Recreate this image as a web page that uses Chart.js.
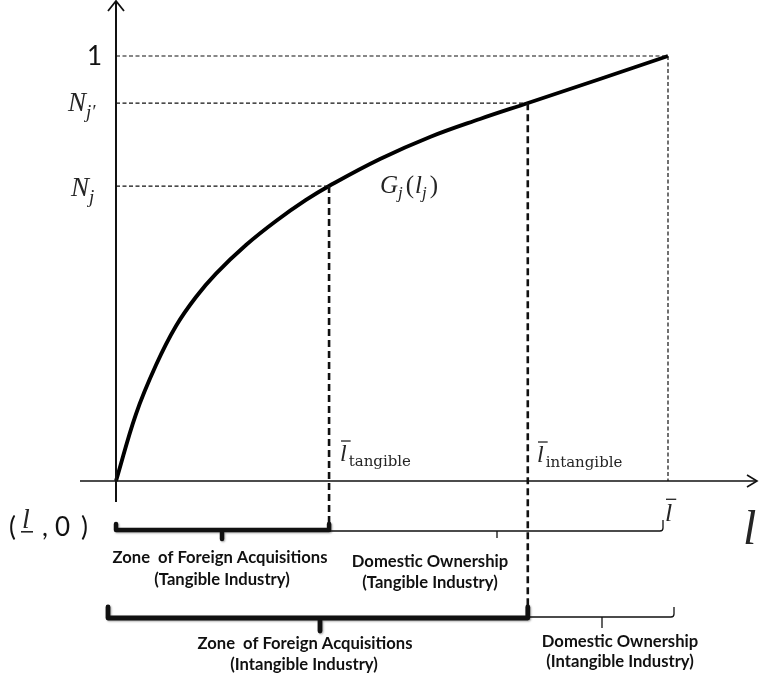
<!DOCTYPE html>
<html>
<head>
<meta charset="utf-8">
<script src="https://cdn.jsdelivr.net/npm/chart.js@4.4.1/dist/chart.umd.min.js"></script>
<style>
html,body{margin:0;padding:0;background:#fff;}
#wrap{width:759px;height:680px;}
</style>
</head>
<body>
<div id="wrap"><canvas id="c" width="759" height="680"></canvas></div>
<script>
// ---- data ----
const curveX = [0, 0.0362, 0.0725, 0.1087, 0.1449, 0.1812, 0.2355, 0.2899, 0.3442, 0.3859, 0.4783, 0.5688, 0.6594, 0.7464, 0.8768, 1.0];
const curveY = [0, 0.1576, 0.2729, 0.3647, 0.4329, 0.4880, 0.5553, 0.6118, 0.6612, 0.6941, 0.7576, 0.8094, 0.8518, 0.8894, 0.9459, 1.0];
const levelOne = 1.0;
const levelNj = 0.694;
const levelNjp = 0.889;
const lTangible = 0.386;
const lIntangible = 0.746;
const lBar = 1.0;
const zoneLabelsTop = ["Zone  of Foreign Acquisitions", "(Tangible Industry)"];
const domLabelsTop = ["Domestic Ownership", "(Tangible Industry)"];
const zoneLabelsBottom = ["Zone  of Foreign Acquisitions", "(Intangible Industry)"];
const domLabelsBottom = ["Domestic Ownership", "(Intangible Industry)"];

const curveData = curveX.map((x, i) => ({x: x, y: curveY[i]}));

const MATH = '"Liberation Serif", "DejaVu Serif", serif';
const ROMAN = '"DejaVu Serif", "Liberation Serif", serif';
const SANS = 'Lato, "Open Sans", "Liberation Sans", sans-serif';
const INK = '#111';
const MINK = '#252525';

function line(ctx, pts, lw, dash) {
  ctx.save();
  ctx.strokeStyle = INK;
  ctx.lineWidth = lw;
  ctx.setLineDash(dash || []);
  ctx.beginPath();
  ctx.moveTo(pts[0][0], pts[0][1]);
  for (let i = 1; i < pts.length; i++) ctx.lineTo(pts[i][0], pts[i][1]);
  ctx.stroke();
  ctx.restore();
}

function bracketThick(ctx, x1, x2, yLine, yTop, midX, midBot, lw) {
  ctx.save();
  ctx.strokeStyle = INK;
  ctx.lineWidth = lw;
  ctx.lineJoin = 'round';
  ctx.lineCap = 'round';
  ctx.shadowColor = 'rgba(0,0,0,0.35)';
  ctx.shadowBlur = 2;
  ctx.shadowOffsetX = 1;
  ctx.shadowOffsetY = 1;
  ctx.beginPath();
  ctx.moveTo(x1, yTop);
  ctx.lineTo(x1, yLine);
  ctx.lineTo(x2, yLine);
  ctx.lineTo(x2, yTop);
  ctx.moveTo(midX, yLine);
  ctx.lineTo(midX, midBot);
  ctx.stroke();
  ctx.restore();
}

function bracketThin(ctx, x1, x2, yLine, yTop, midX, midBot, lw) {
  ctx.save();
  ctx.strokeStyle = INK;
  ctx.lineWidth = lw;
  ctx.beginPath();
  ctx.moveTo(x1, yLine);
  ctx.lineTo(x2 - 3, yLine);
  ctx.quadraticCurveTo(x2, yLine, x2, yLine - 3);
  ctx.lineTo(x2, yTop);
  ctx.moveTo(midX, yLine);
  ctx.lineTo(midX, midBot);
  ctx.stroke();
  ctx.restore();
}

function mathSub(ctx, x, yBase, main, sub, size, subSize, subDrop) {
  ctx.save();
  ctx.fillStyle = MINK;
  ctx.textBaseline = 'alphabetic';
  ctx.textAlign = 'left';
  ctx.font = 'italic ' + size + 'px ' + MATH;
  ctx.fillText(main, x, yBase);
  const w = ctx.measureText(main).width;
  ctx.font = 'italic ' + subSize + 'px ' + MATH;
  ctx.fillText(sub, x + w, yBase + subDrop);
  ctx.restore();
}

const overlay = {
  id: 'overlay',
  afterDatasetsDraw(chart) {
    const ctx = chart.ctx;
    const sx = chart.scales.x, sy = chart.scales.y;
    const X = v => sx.getPixelForValue(v);
    const Y = v => sy.getPixelForValue(v);
    const x0 = X(0), y0 = Y(0);

    // axes
    line(ctx, [[x0, 1], [x0, y0 + 21]], 2);
    line(ctx, [[x0 - 8, 11], [x0, 1], [x0 + 8, 11]], 1.8);
    line(ctx, [[x0 - 36, y0], [757, y0]], 1.6);
    line(ctx, [[747, y0 - 6], [757, y0], [747, y0 + 6]], 1.6);

    // thin dashed guides
    line(ctx, [[x0, Y(levelOne)], [X(lBar), Y(levelOne)]], 1.2, [4, 2.5]);
    line(ctx, [[x0, Y(levelNjp)], [X(lIntangible), Y(levelNjp)]], 1.2, [4, 2.5]);
    line(ctx, [[x0, Y(levelNj)], [X(lTangible), Y(levelNj)]], 1.2, [4, 2.5]);
    line(ctx, [[X(lBar), Y(levelOne)], [X(lBar), y0]], 1.2, [4, 2.5]);

    // thick dashed verticals
    line(ctx, [[X(lTangible), Y(levelNj)], [X(lTangible), y0 + 43]], 2.6, [7, 4]);
    line(ctx, [[X(lIntangible), Y(levelNjp)], [X(lIntangible), y0 + 125]], 2.6, [7, 4]);

    // brackets
    bracketThin(ctx, X(lTangible), X(lBar) - 5, y0 + 50, y0 + 39, 497, y0 + 57, 1.3);
    bracketThick(ctx, x0, X(lTangible), y0 + 49, y0 + 43, 222, y0 + 58, 4.5);
    bracketThin(ctx, X(lIntangible), X(lBar) + 6, y0 + 136, y0 + 126, 602, y0 + 147, 1.3);
    bracketThick(ctx, x0 - 8, X(lIntangible), y0 + 137, y0 + 126, 320, y0 + 150, 4.8);

    // sans text
    ctx.save();
    ctx.fillStyle = INK;
    ctx.textBaseline = 'alphabetic';
    ctx.textAlign = 'left';
    ctx.font = '26px ' + SANS;
    ctx.fillText('1', 87, Y(levelOne) + 9);
    // ( l , 0 )
    const cb = 536;
    ctx.fillText('(', 9, cb);
    ctx.fillText(',', 42, cb);
    ctx.fillText('0', 55, cb);
    ctx.fillText(')', 81, cb);
    ctx.font = 'italic 28px ' + MATH;
    ctx.fillStyle = MINK;
    ctx.fillText('l', 22, 528);
    ctx.fillRect(21, 531, 12, 1.6);
    ctx.restore();

    // bold labels fitted to width
    ctx.save();
    ctx.fillStyle = INK;
    ctx.textAlign = 'center';
    ctx.textBaseline = 'middle';
    ctx.font = 'bold 20px ' + SANS;
    const wRef = ctx.measureText(zoneLabelsTop[0]).width;
    const fs = 20 * 215 / wRef;
    ctx.font = 'bold ' + fs.toFixed(2) + 'px ' + SANS;
    ctx.fillText(zoneLabelsTop[0], 220, 558);
    ctx.fillText(zoneLabelsTop[1], 222, 580);
    ctx.fillText(domLabelsTop[0], 430, 562);
    ctx.fillText(domLabelsTop[1], 430, 583);
    ctx.fillText(zoneLabelsBottom[0], 305, 644);
    ctx.fillText(zoneLabelsBottom[1], 304, 665);
    ctx.fillText(domLabelsBottom[0], 620, 642);
    ctx.fillText(domLabelsBottom[1], 620, 662);
    ctx.restore();

    // math labels
    mathSub(ctx, 68, Y(levelNjp) + 8, 'N', 'j\u2032', 27, 19, 7);
    mathSub(ctx, 71, Y(levelNj) + 10, 'N', 'j', 27, 19, 7);

    // G_j(l_j)
    ctx.save();
    ctx.fillStyle = MINK;
    ctx.textBaseline = 'alphabetic';
    let gx = 380;
    const gy = 193;
    ctx.font = 'italic 25px ' + MATH;
    ctx.fillText('G', gx, gy); gx += ctx.measureText('G').width;
    ctx.font = 'italic 17px ' + MATH;
    ctx.fillText('j', gx, gy + 5); gx += ctx.measureText('j').width + 3;
    ctx.font = '25px ' + MATH;
    ctx.fillText('(', gx, gy); gx += ctx.measureText('(').width + 1;
    ctx.font = 'italic 25px ' + MATH;
    ctx.fillText('l', gx, gy); gx += ctx.measureText('l').width;
    ctx.font = 'italic 17px ' + MATH;
    ctx.fillText('j', gx, gy + 5); gx += ctx.measureText('j').width + 3;
    ctx.font = '25px ' + MATH;
    ctx.fillText(')', gx, gy);
    ctx.restore();

    // l-bar labels
    function lbar(x, yBase, size, sub, subSize) {
      ctx.save();
      ctx.fillStyle = MINK;
      ctx.textBaseline = 'alphabetic';
      ctx.font = 'italic ' + size + 'px ' + MATH;
      ctx.fillText('l', x, yBase);
      const w = ctx.measureText('l').width;
      ctx.fillRect(x + 1, yBase - size * 0.86, w + 3, 1.3);
      if (sub) {
        ctx.font = subSize + 'px ' + ROMAN;
        ctx.fillText(sub, x + w + 2, yBase + 5);
      }
      ctx.restore();
    }
    lbar(340, 461, 24, 'tangible', 15);
    lbar(537, 462, 24, 'intangible', 15);
    lbar(665, 521, 26, null, 0);

    // big l
    ctx.save();
    ctx.fillStyle = MINK;
    ctx.textBaseline = 'alphabetic';
    ctx.font = 'italic 48px ' + MATH;
    ctx.fillText('l', 743, 544);
    ctx.restore();
  }
};

new Chart(document.getElementById('c'), {
  type: 'scatter',
  data: {
    datasets: [{
      data: curveData,
      showLine: true,
      borderColor: '#000',
      borderWidth: 3.9,
      pointRadius: 0,
      tension: 0.4,
      fill: false
    }]
  },
  options: {
    responsive: false,
    animation: false,
    devicePixelRatio: 1,
    layout: {padding: 0},
    plugins: {legend: {display: false}, tooltip: {enabled: false}},
    scales: {
      x: {type: 'linear', display: false, min: (0 - 116) / 552, max: (759 - 116) / 552},
      y: {type: 'linear', display: false, min: (481 - 680) / 425, max: 481 / 425}
    }
  },
  plugins: [overlay]
});
</script>
</body>
</html>
